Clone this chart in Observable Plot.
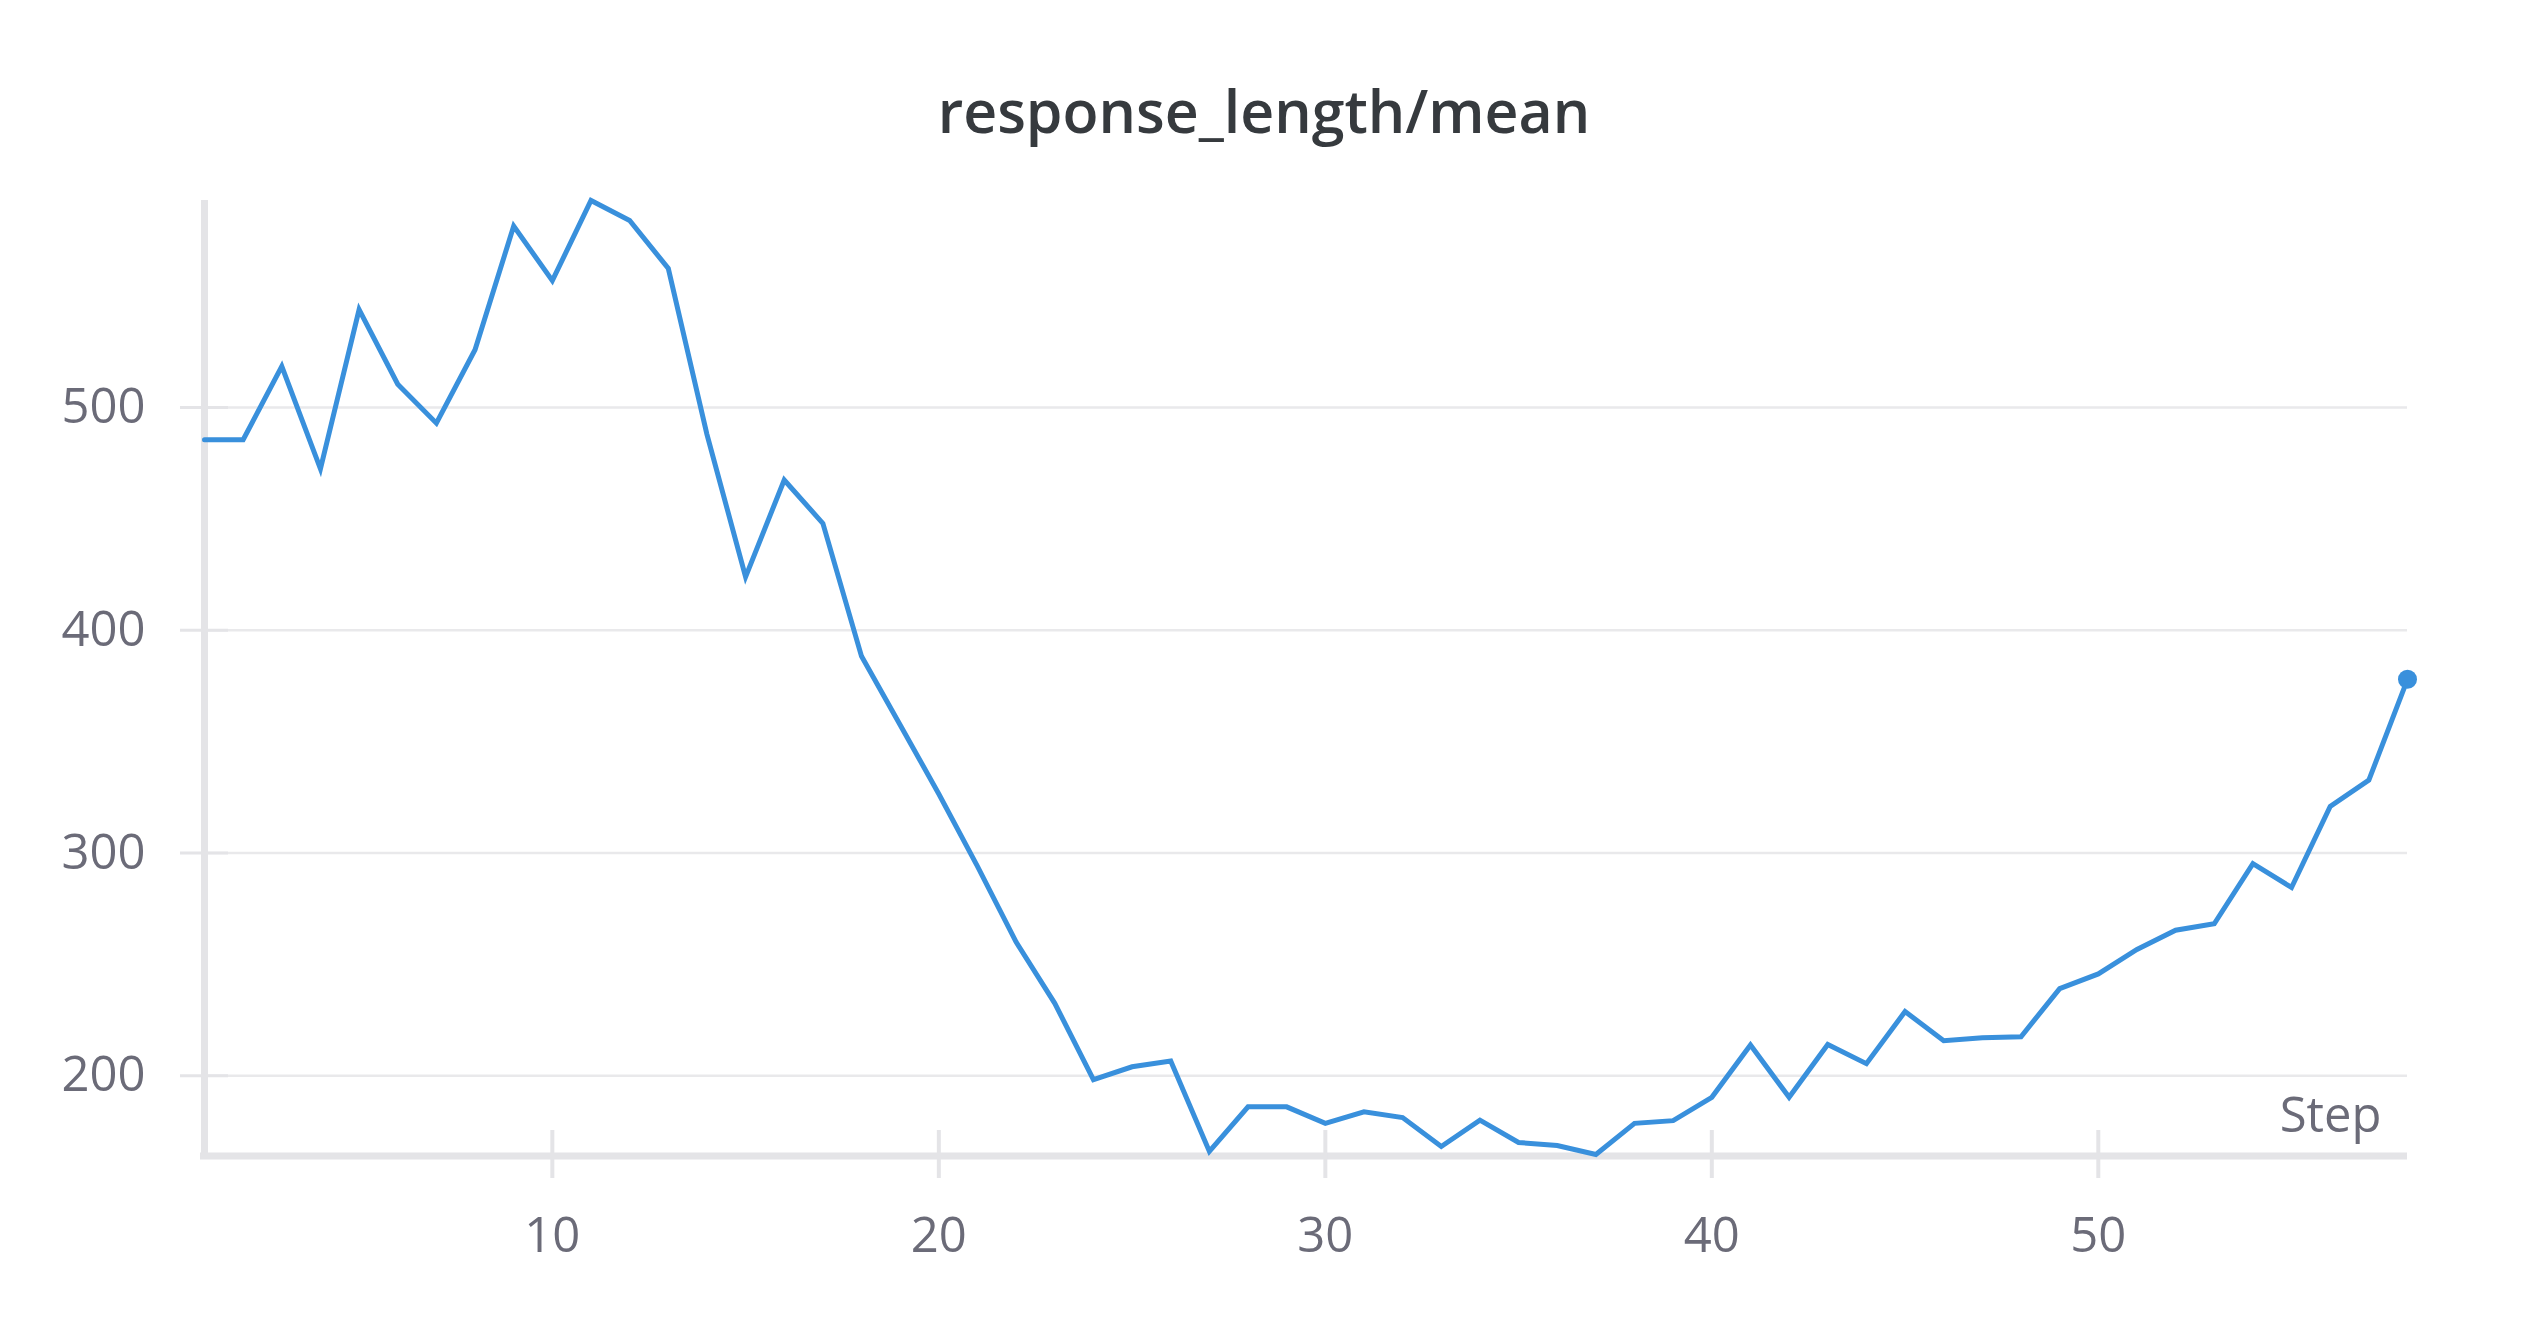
<!DOCTYPE html>
<html>
<head>
<meta charset="utf-8">
<script src="https://cdn.jsdelivr.net/npm/d3@7"></script>
<script src="https://cdn.jsdelivr.net/npm/@observablehq/plot@0.6"></script>
<style>
  html, body { margin: 0; padding: 0; background: #ffffff; overflow: hidden; }
  #title {
    width: 2528px; height: 140px; box-sizing: border-box;
    padding-top: 80px; text-align: center;
    font-family: "Open Sans", "Noto Sans", sans-serif; font-weight: 600;
    font-size: 59px; line-height: 60px; color: #363a3e;
  }
  #chart svg { display: block; }
</style>
</head>
<body>
<div id="title">response_length/mean</div>
<div id="chart"></div>
<script>
const titleText = "response_length/mean";
const xLabel = "Step";
const steps = d3.range(1, 59);
const responseLength = [
  485.6, 485.6, 518.5, 472.5, 544.0, 510.5, 493.0, 526.0, 581.5, 557.0,
  593.0, 584.0, 562.5, 488.0, 424.0, 467.5, 448.0, 388.3, 357.5, 326.5,
  294.0, 260.0, 232.5, 198.2, 204.0, 206.6, 166.0, 186.0, 186.0, 178.6,
  183.8, 181.2, 168.2, 180.0, 170.0, 168.6, 164.6, 178.6, 179.8, 190.3,
  213.8, 190.3, 214.0, 205.4, 228.8, 215.7, 217.0, 217.5, 239.1, 245.7,
  256.7, 265.3, 268.2, 295.2, 284.5, 320.9, 332.7, 378.0
];
const yTicks = [200, 300, 400, 500];
const xTicks = [10, 20, 30, 40, 50];

const data = steps.map((s, i) => ({step: s, value: responseLength[i]}));
const last = data[data.length - 1];
const yExtent = d3.extent(responseLength);

const lineColor = "#3990dc";
const axisColor = "#e4e4e7";
const gridColor = "#e9e9eb";
const labelColor = "#6b6b78";

const chart = Plot.plot({
  width: 2528,
  height: 1188,
  marginLeft: 204,
  marginRight: 121,
  marginTop: 60,
  marginBottom: 174,
  style: {fontFamily: "'Open Sans', 'Noto Sans', sans-serif", fontSize: "49px", color: labelColor, background: "#ffffff"},
  x: {domain: [1, 58]},
  y: {domain: yExtent},
  marks: [
    Plot.gridY(yTicks, {stroke: gridColor, strokeOpacity: 1, strokeWidth: 2.5}),
    Plot.ruleX([1], {stroke: axisColor, strokeWidth: 7, insetBottom: -5}),
    Plot.ruleY([yExtent[0]], {stroke: axisColor, strokeWidth: 7, dy: 1.5, insetLeft: -4}),
    Plot.axisY(yTicks, {tickSize: 48, tickPadding: 35, dx: 24, stroke: axisColor, strokeWidth: 3, strokeOpacity: 1, fill: labelColor, fontSize: 49, label: null}),
    Plot.axisX(xTicks, {tickSize: 48, tickPadding: 39, dy: -24, stroke: axisColor, strokeWidth: 4, strokeOpacity: 1, fill: labelColor, fontSize: 49, label: null}),
    Plot.line(data, {x: "step", y: "value", stroke: lineColor, strokeWidth: 5, strokeLinejoin: "miter", strokeMiterlimit: 4}),
    Plot.dot([last], {x: "step", y: "value", r: 9.5, fill: lineColor, stroke: "none"}),
    Plot.text([xLabel], {frameAnchor: "bottom-right", textAnchor: "end", lineAnchor: "middle", dx: -26, dy: -38, fill: labelColor, fontSize: 49})
  ]
});
document.getElementById("chart").appendChild(chart);
</script>
</body>
</html>
